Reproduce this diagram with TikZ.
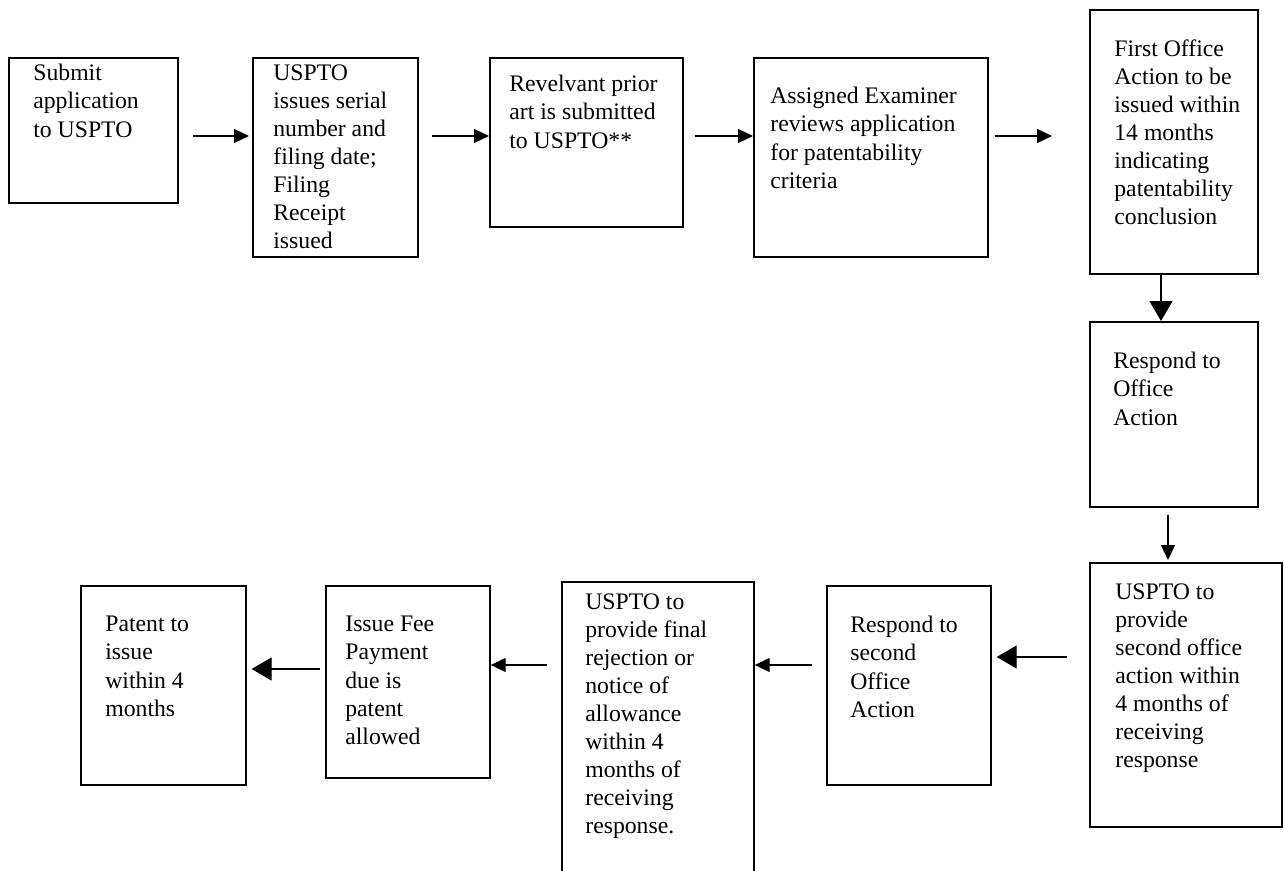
\documentclass[tikz,border=0pt]{standalone}
\usepackage{fontspec}
\setmainfont{Liberation Serif}
\usetikzlibrary{arrows.meta}

\tikzset{
    box/.style 2 args={draw, line width=0.95pt, anchor=north west, inner sep=0pt,
        minimum width=#1*0.02cm, minimum height=#2*0.02cm},
    txt/.style={anchor=north west, inner sep=0pt, align=left,
        font=\fontsize{13.5}{16}\selectfont},
    arr/.style={line width=0.75pt, -{Triangle[length=0.3cm, width=0.28cm]}},
    bigarr/.style={line width=0.75pt, -{Triangle[length=0.4cm, width=0.46cm]}}
}

\begin{document}
\begin{tikzpicture}[x=0.02cm, y=-0.02cm]
            \clip (0,0) rectangle (1285,871);

            \node[box={169}{145}] (submit) at (8,57) {};
            \node[box={165}{199}] (serial) at (252,57) {};
            \node[box={193}{169}] (priorart) at (489,57) {};
            \node[box={234}{199}] (examiner) at (753,57) {};
            \node[box={168}{264}] (firstoa) at (1089,9) {};
            \node[box={168}{185}] (respond) at (1089,321) {};
            \node[box={192}{264}] (secondoa) at (1089,562) {};
            \node[box={164}{199}] (respond2) at (826,585) {};
            \node[box={192}{310}] (finalact) at (561,581) {};
            \node[box={164}{192}] (issuefee) at (325,585) {};
            \node[box={165}{199}] (patent) at (80,585) {};

            \node[txt] (submit-t) at ([shift={(25,7)}]submit.north west)
                {Submit\\application\\to USPTO};
            \node[txt] (serial-t) at ([shift={(21,7)}]serial.north west)
                {USPTO\\issues serial\\number and\\filing date;\\Filing\\Receipt\\issued};
            \node[txt] (priorart-t) at ([shift={(20,18)}]priorart.north west)
                {Revelvant prior\\art is submitted\\to USPTO**};
            \node[txt] (examiner-t) at ([shift={(17,30)}]examiner.north west)
                {Assigned Examiner\\reviews application\\for patentability\\criteria};
            \node[txt] (firstoa-t) at ([shift={(25,30)}]firstoa.north west)
                {First Office\\Action to be\\issued within\\14 months\\indicating\\patentability\\conclusion};
            \node[txt] (respond-t) at ([shift={(24,31)}]respond.north west)
                {Respond to\\Office\\Action};
            \node[txt] (secondoa-t) at ([shift={(26,21)}]secondoa.north west)
                {USPTO to\\provide\\second office\\action within\\4 months of\\receiving\\response};
            \node[txt] (respond2-t) at ([shift={(24,31)}]respond2.north west)
                {Respond to\\second\\Office\\Action};
            \node[txt] (finalact-t) at ([shift={(24,12)}]finalact.north west)
                {USPTO to\\provide final\\rejection or\\notice of\\allowance\\within 4\\months of\\receiving\\response.};
            \node[txt] (issuefee-t) at ([shift={(20,31)}]issuefee.north west)
                {Issue Fee\\Payment\\due is\\patent\\allowed};
            \node[txt] (patent-t) at ([shift={(25,31)}]patent.north west)
                {Patent to\\issue\\within 4\\months};

            \coordinate (toprow) at (0,136);
            \coordinate (downA) at (1161,0);
            \coordinate (downB) at (1168,0);
            \coordinate (botA) at (0,657);
            \coordinate (botB) at (0,665);
            \coordinate (botC) at (0,669);

            \draw[arr, shorten <=0.28cm, shorten >=0.06cm]
                (submit.east |- toprow) -- (serial.west |- toprow);
            \draw[arr, shorten <=0.26cm] (serial.east |- toprow) -- (priorart.west |- toprow);
            \draw[arr, shorten <=0.22cm] (priorart.east |- toprow) -- (examiner.west |- toprow);
            \draw[arr, shorten <=0.12cm, shorten >=0.74cm]
                (examiner.east |- toprow) -- (firstoa.west |- toprow);
            \draw[bigarr] (firstoa.south -| downA) -- (respond.north -| downA);
            \draw[arr, shorten <=0.14cm, shorten >=0.04cm]
                (respond.south -| downB) -- (secondoa.north -| downB);
            \draw[bigarr, shorten <=0.44cm, shorten >=0.1cm]
                (secondoa.west |- botA) -- (respond2.east |- botA);
            \draw[arr, shorten <=0.28cm] (respond2.west |- botB) -- (finalact.east |- botB);
            \draw[arr, shorten <=0.28cm] (finalact.west |- botB) -- (issuefee.east |- botB);
            \draw[bigarr, shorten <=0.1cm, shorten >=0.1cm]
                (issuefee.west |- botC) -- (patent.east |- botC);

        \end{tikzpicture}
\end{document}
